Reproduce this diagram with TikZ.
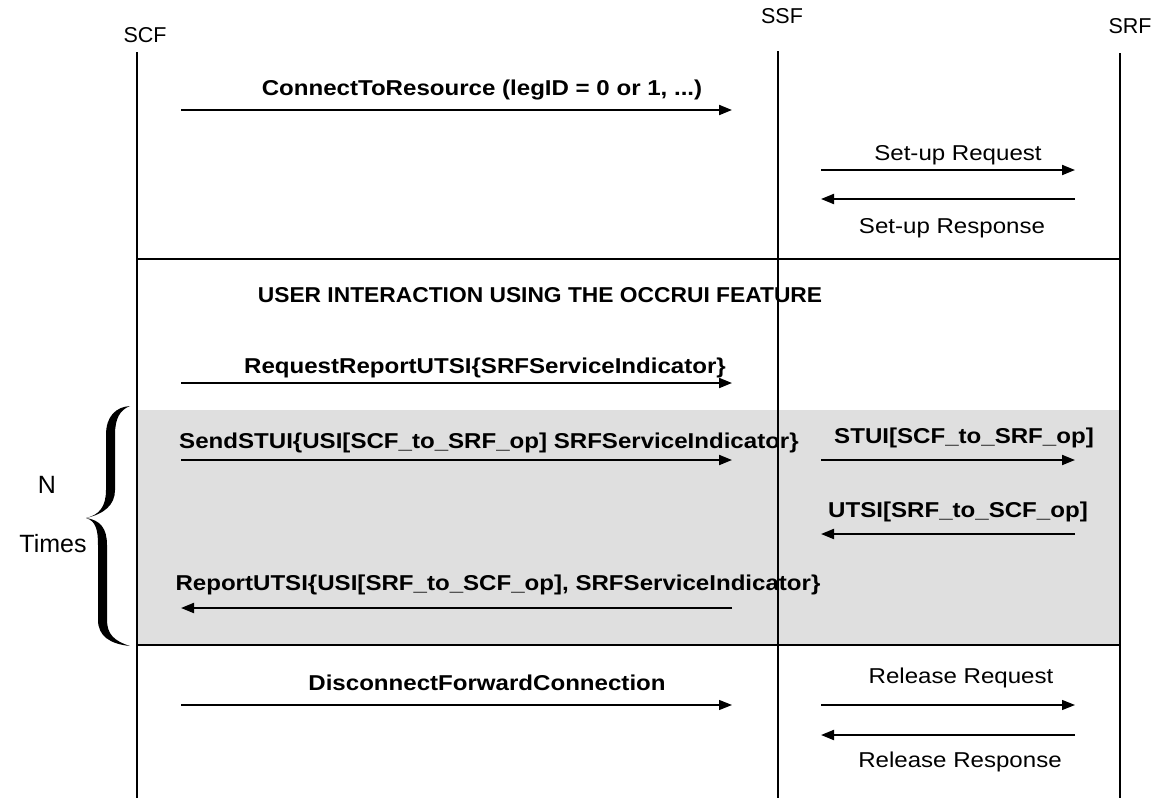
\documentclass[tikz,border=0pt]{standalone}
\usepackage{fontspec}
\usepackage{graphicx}
\setmainfont{Liberation Sans}
\usetikzlibrary{arrows.meta}
\newcommand{\widelbl}[1]{\scalebox{1.12}[1]{#1}}
\newcommand{\widettl}[1]{\scalebox{1.06}[1]{#1}}
\begin{document}
\begin{tikzpicture}[x=1pt,y=-1pt,
  head/.style={font=\fontsize{21.5}{26}\selectfont, inner sep=0pt, anchor=base},
  lbl/.style={font=\fontsize{21.5}{26}\selectfont, inner sep=0pt, anchor=base},
  blbl/.style={font=\fontsize{21.5}{26}\selectfont\bfseries, inner sep=0pt, anchor=base},
  big/.style={font=\fontsize{25}{30}\selectfont, inner sep=0pt, anchor=base},
  life/.style={line width=2pt},
  msg/.style={line width=2pt, -{Triangle[length=13pt,width=10pt]}},
  thinmsg/.style={line width=1.3pt, -{Triangle[length=13pt,width=10pt]}},
  sep/.style={line width=1.3pt},
  band/.style={fill=gray!25, draw=none}]
\useasboundingbox (0,0) rectangle (1154,798);
% gray loop band
\fill[band] (137,410) rectangle (1120,645);
% separators
\coordinate (sepAL) at (137,259); \coordinate (sepAR) at (1120,259);
\coordinate (sepBL) at (137,645); \coordinate (sepBR) at (1120,645);
\draw[sep] (sepAL) -- (sepAR);
\draw[sep] (sepBL) -- (sepBR);
% lifeline heads
\node[head] (scf) at (145,42) {SCF};
\node[head] (ssf) at (782,23) {SSF};
\node[head] (srf) at (1130,33) {SRF};
\coordinate (scfT) at (137,52); \coordinate (scfB) at (137,798);
\coordinate (ssfT) at (778,51); \coordinate (ssfB) at (778,798);
\coordinate (srfT) at (1120,53); \coordinate (srfB) at (1120,798);
\draw[life] (scfT) -- (scfB);
\draw[life] (ssfT) -- (ssfB);
\draw[life] (srfT) -- (srfB);
% message end points
\coordinate (aL) at (181,110); \coordinate (aR) at (732,110);
\coordinate (bL) at (821,170); \coordinate (bR) at (1075,170);
\coordinate (cL) at (821,199); \coordinate (cR) at (1075,199);
\coordinate (dL) at (181,383); \coordinate (dR) at (732,383);
\coordinate (eL) at (181,460); \coordinate (eR) at (732,460);
\coordinate (fL) at (821,460); \coordinate (fR) at (1075,460);
\coordinate (gL) at (821,534); \coordinate (gR) at (1075,534);
\coordinate (hL) at (181,608); \coordinate (hR) at (732,608);
\coordinate (iL) at (181,705); \coordinate (iR) at (732,705);
\coordinate (jL) at (821,705); \coordinate (jR) at (1075,705);
\coordinate (kL) at (821,735); \coordinate (kR) at (1075,735);
\draw[msg] (aL) -- (aR);
\draw[msg] (bL) -- (bR);
\draw[msg] (cR) -- (cL);
\draw[msg] (dL) -- (dR);
\draw[msg] (eL) -- (eR);
\draw[msg] (fL) -- (fR);
\draw[msg] (gR) -- (gL);
\draw[msg] (hR) -- (hL);
\draw[thinmsg] (iL) -- (iR);
\draw[thinmsg] (jL) -- (jR);
\draw[msg] (kR) -- (kL);
% labels
\node[blbl] (la) at (482,95) {\widelbl{ConnectToResource (legID = 0 or 1, ...)}};
\node[lbl] (lb) at (958,160) {\widelbl{Set-up Request}};
\node[lbl] (lc) at (952,233) {\widelbl{Set-up Response}};
\node[blbl] (title) at (540,302) {\widettl{USER INTERACTION USING THE OCCRUI FEATURE}};
\node[blbl] (ld) at (485,373) {\widelbl{RequestReportUTSI\{SRFServiceIndicator\}}};
\node[blbl] (le) at (489,448) {\widelbl{SendSTUI\{USI[SCF\_to\_SRF\_op] SRFServiceIndicator\}}};
\node[blbl] (lf) at (964,443) {\widelbl{STUI[SCF\_to\_SRF\_op]}};
\node[blbl] (lg) at (958,517) {\widelbl{UTSI[SRF\_to\_SCF\_op]}};
\node[blbl] (lh) at (498,590) {\widelbl{ReportUTSI\{USI[SRF\_to\_SCF\_op], SRFServiceIndicator\}}};
\node[blbl] (li) at (487,690) {\widelbl{DisconnectForwardConnection}};
\node[lbl] (lj) at (961,683) {\widelbl{Release Request}};
\node[lbl] (lk) at (960,767) {\widelbl{Release Response}};
\node[big] (n) at (47,493) {N};
\node[big] (times) at (53,552) {Times};
% brace
\fill (130,406) .. controls (116,407) and (106,416) .. (106,435) -- (106,490)
  .. controls (106,507) and (99,515) .. (86,518)
  .. controls (96,521) and (98,530) .. (98,545) -- (98,620)
  .. controls (98,636) and (110,644) .. (130,646)
  .. controls (114,641) and (107,634) .. (107,620) -- (107,545)
  .. controls (107,528) and (100,520) .. (86,518)
  .. controls (104,514) and (115,505) .. (115,490) -- (115,435)
  .. controls (115,418) and (120,410) .. (130,406) -- cycle;
\end{tikzpicture}
\end{document}
